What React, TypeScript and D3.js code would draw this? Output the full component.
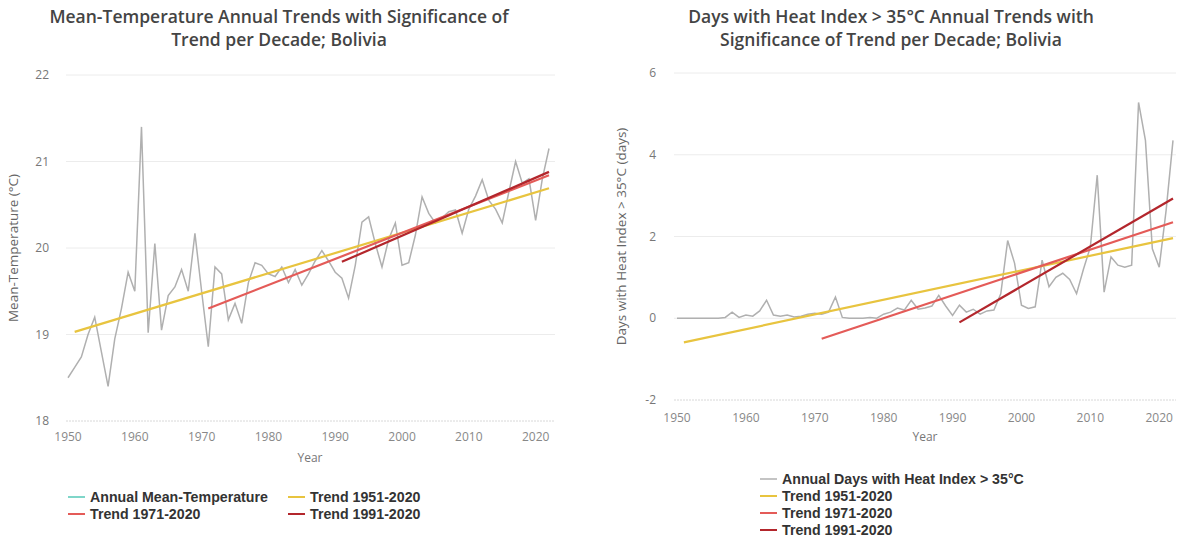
import React from 'react';
import * as d3 from 'd3';

// years shared by both series (1950–2022)
const years = d3.range(1950, 2023);

// annual mean temperature, Bolivia (°C)
const meanTemp = [
  18.50, 18.62, 18.74, 19.00, 19.20, 18.80, 18.40, 18.95, 19.30, 19.72,
  19.50, 21.40, 19.02, 20.05, 19.05, 19.45, 19.55, 19.75, 19.50, 20.17,
  19.50, 18.86, 19.78, 19.70, 19.17, 19.36, 19.13, 19.60, 19.83, 19.80,
  19.70, 19.67, 19.78, 19.60, 19.75, 19.57, 19.70, 19.85, 19.97, 19.85,
  19.72, 19.65, 19.42, 19.80, 20.30, 20.36, 20.05, 19.78, 20.10, 20.29,
  19.80, 19.83, 20.15, 20.59, 20.40, 20.29, 20.35, 20.42, 20.44, 20.17,
  20.45, 20.60, 20.79, 20.55, 20.45, 20.29, 20.65, 21.00, 20.75, 20.80,
  20.32, 20.80, 21.15,
];

// annual days with heat index > 35°C
const heatDays = [
  0, 0, 0, 0, 0, 0, 0, 0.02, 0.15, 0.02,
  0.08, 0.05, 0.18, 0.44, 0.08, 0.05, 0.08, 0.03, 0.05, 0.10,
  0.12, 0.10, 0.15, 0.52, 0.02, 0, 0, 0, 0.02, 0,
  0.10, 0.15, 0.25, 0.20, 0.44, 0.22, 0.25, 0.30, 0.56, 0.30,
  0.07, 0.32, 0.15, 0.22, 0.10, 0.18, 0.20, 0.60, 1.90, 1.35,
  0.32, 0.24, 0.28, 1.42, 0.77, 1.00, 1.10, 0.95, 0.60, 1.20,
  1.74, 3.50, 0.64, 1.50, 1.30, 1.25, 1.30, 5.28, 4.35, 1.70,
  1.25, 2.64, 4.35,
];

// trend lines: start year, values at start and at 2022
const trendNames = ['Trend 1951-2020', 'Trend 1971-2020', 'Trend 1991-2020'];
const trendStartYears = [1951, 1971, 1991];
const trendEndYear = 2022;
const tempTrendStart = [19.03, 19.30, 19.84];
const tempTrendEnd = [20.69, 20.84, 20.88];
const heatTrendStart = [-0.59, -0.50, -0.10];
const heatTrendEnd = [1.96, 2.35, 2.93];

const xTicks = [1950, 1960, 1970, 1980, 1990, 2000, 2010, 2020];
const tempTicks = [18, 19, 20, 21, 22];
const heatTicks = [-2, 0, 2, 4, 6];

const trendColors = ['#e8c43f', '#e45b58', '#b3262c'];
const dataColor = '#b0b0b0';
const font = "'Open Sans', 'DejaVu Sans', sans-serif";

type ChartProps = {
  title: string[];
  titleX: number;
  values: number[];
  trendStart: number[];
  trendEnd: number[];
  yTicks: number[];
  yLabel: string;
  x0: number; x1: number;
  y0: number; y1: number;
  gridX0: number; gridX1: number;
  yTickX: number;
  yLabelX: number;
  xTickY: number;
  xLabelY: number;
  xLabelX: number;
};

const Chart = (p: ChartProps) => {
  const x = d3.scaleLinear().domain([1950, 2022]).range([p.x0, p.x1]);
  const y = d3.scaleLinear()
    .domain([p.yTicks[0], p.yTicks[p.yTicks.length - 1]])
    .range([p.y0, p.y1]);
  const line = d3.line<number>()
    .x((d, i) => x(years[i]))
    .y(d => y(d));
  const yMid = (p.y0 + p.y1) / 2;

  return (
    <g>
      {p.title.map((t, i) => (
        <text key={i} x={p.titleX} y={23 + i * 23} textAnchor="middle"
          fontFamily={font} fontWeight={600} fontSize={17.5} fill="#444">{t}</text>
      ))}
      {p.yTicks.map(t => (
        <g key={t}>
          <line x1={p.gridX0} x2={p.gridX1} y1={y(t)} y2={y(t)}
            stroke={t === p.yTicks[0] ? '#d8d8d8' : '#ececec'} strokeWidth={1}
            strokeDasharray={t === p.yTicks[0] ? '2,1' : undefined} />
          <text x={p.yTickX} y={y(t) + 4} textAnchor="end" fontFamily={font}
            fontSize={12} fill="#777">{t}</text>
        </g>
      ))}
      {xTicks.map(t => (
        <text key={t} x={x(t)} y={p.xTickY} textAnchor="middle" fontFamily={font}
          fontSize={12} fill="#888">{t}</text>
      ))}
      <text x={p.xLabelX} y={p.xLabelY} textAnchor="middle" fontFamily={font}
        fontSize={12} fill="#777">Year</text>
      <text transform={`translate(${p.yLabelX},${yMid}) rotate(-90)`} textAnchor="middle"
        fontFamily={font} fontSize={13.5} fill="#666">{p.yLabel}</text>

      <path d={line(p.values) || ''} fill="none" stroke={dataColor} strokeWidth={1.5} />
      {trendStartYears.map((s, i) => (
        <line key={s} x1={x(s)} y1={y(p.trendStart[i])} x2={x(trendEndYear)} y2={y(p.trendEnd[i])}
          stroke={trendColors[i]} strokeWidth={2.2} />
      ))}
    </g>
  );
};

const LegendItem = ({ x, y, color, label }: { x: number; y: number; color: string; label: string }) => (
  <g>
    <line x1={x} x2={x + 17} y1={y} y2={y} stroke={color} strokeWidth={2} />
    <text x={x + 22} y={y + 5} fontFamily="'Liberation Sans', Arial, sans-serif" fontWeight={700}
      fontSize={14.2} fill="#333">{label}</text>
  </g>
);

export default function App() {
  return (
    <div style={{ position: 'absolute', left: 0, top: 0, width: 1179, height: 540, background: '#fff' }}>
      <svg width={1179} height={540}>
        <Chart
          title={['Mean-Temperature Annual Trends with Significance of', 'Trend per Decade; Bolivia']}
          titleX={279}
          values={meanTemp}
          trendStart={tempTrendStart}
          trendEnd={tempTrendEnd}
          yTicks={tempTicks}
          yLabel="Mean-Temperature (°C)"
          x0={68} x1={549} y0={421} y1={75}
          gridX0={66} gridX1={555}
          yTickX={49} yLabelX={18}
          xTickY={441} xLabelY={462} xLabelX={310}
        />
        <Chart
          title={['Days with Heat Index > 35°C Annual Trends with', 'Significance of Trend per Decade; Bolivia']}
          titleX={891}
          values={heatDays}
          trendStart={heatTrendStart}
          trendEnd={heatTrendEnd}
          yTicks={heatTicks}
          yLabel="Days with Heat Index > 35°C (days)"
          x0={677} x1={1173} y0={400} y1={73}
          gridX0={674} gridX1={1176}
          yTickX={656} yLabelX={626}
          xTickY={422} xLabelY={441} xLabelX={925}
        />

        <LegendItem x={68} y={497} color="#7fd6c9" label="Annual Mean-Temperature" />
        <LegendItem x={288} y={497} color={trendColors[0]} label={trendNames[0]} />
        <LegendItem x={68} y={514} color={trendColors[1]} label={trendNames[1]} />
        <LegendItem x={288} y={514} color={trendColors[2]} label={trendNames[2]} />

        <LegendItem x={760} y={479} color="#c4c4c4" label="Annual Days with Heat Index > 35°C" />
        {trendNames.map((n, i) => (
          <LegendItem key={n} x={760} y={496 + i * 17} color={trendColors[i]} label={n} />
        ))}
      </svg>
    </div>
  );
}
